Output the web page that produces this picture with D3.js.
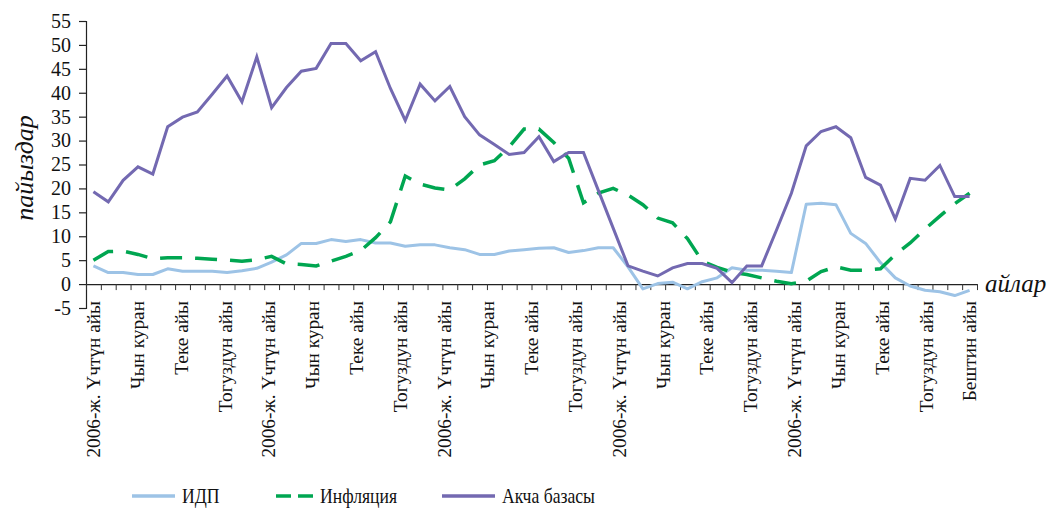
<!DOCTYPE html>
<html><head><meta charset="utf-8">
<script src="https://cdn.jsdelivr.net/npm/d3@7"></script>
<style>
html,body{margin:0;padding:0;background:#fff;}
svg{display:block;font-family:"Liberation Serif","Times New Roman",serif;}
</style></head>
<body>
<svg id="chart" width="1052" height="508"></svg>
<script>
const seriesNames = ["ИДП", "Инфляция", "Акча базасы"];
const gdp = [3.8,2.4,2.4,2.0,2.0,3.2,2.7,2.7,2.7,2.4,2.8,3.3,4.6,6.1,8.5,8.5,9.3,8.9,9.3,8.6,
             8.6,7.9,8.2,8.2,7.6,7.2,6.2,6.2,6.9,7.2,7.5,7.6,6.6,7.0,7.6,7.6,3.6,-1.0,0.1,0.4,
             -1.0,0.5,1.3,3.4,2.9,2.9,2.7,2.4,16.7,16.9,16.6,10.6,8.5,4.5,1.3,-0.4,-1.3,-1.6,-2.4,-1.3];
const inflation = [5.0,6.8,6.9,6.2,5.3,5.5,5.5,5.4,5.2,5.0,4.8,5.1,5.8,4.2,4.1,3.8,4.8,5.8,7.0,9.7,
                   13.0,22.6,20.9,20.1,19.7,22.0,24.9,25.8,28.7,32.4,32.4,29.6,26.3,17.0,19.0,20.0,18.6,16.6,13.8,12.8,
                   9.5,4.8,3.5,2.5,2.0,1.3,0.6,0.1,0.6,2.6,3.6,2.9,2.9,3.2,6.2,8.6,11.5,14.2,16.8,19.0];
const moneyBase = [19.3,17.2,21.7,24.5,23.0,32.9,34.9,36.0,39.7,43.5,38.1,47.5,36.9,41.1,44.5,45.1,50.3,50.3,46.7,48.6,
                   40.9,34.2,41.8,38.3,41.3,35.0,31.2,29.2,27.1,27.5,30.8,25.6,27.5,27.5,19.6,11.7,3.8,2.7,1.7,3.4,
                   4.3,4.3,3.3,0.3,3.8,3.8,11.3,19.0,28.9,31.9,32.9,30.6,22.3,20.7,13.6,22.1,21.7,24.8,18.3,18.3];
const xLabels = ["2006-ж. Үчтүн айы","Чын куран","Теке айы","Тогуздун айы",
                 "2006-ж. Үчтүн айы","Чын куран","Теке айы","Тогуздун айы",
                 "2006-ж. Үчтүн айы","Чын куран","Теке айы","Тогуздун айы",
                 "2006-ж. Үчтүн айы","Чын куран","Теке айы","Тогуздун айы",
                 "2006-ж. Үчтүн айы","Чын куран","Теке айы","Тогуздун айы",
                 "Бештин айы"];
const yTicks = [-5,0,5,10,15,20,25,30,35,40,45,50,55];
const yTitle = "пайыздар";
const xTitle = "айлар";

const colors = ["#9dc3e6", "#00a651", "#7369b1"];
const svg = d3.select("#chart");
const n = moneyBase.length;
const x = d3.scaleLinear().domain([-0.5, n - 0.5]).range([86, 977]);
const y = d3.scaleLinear().domain([-5, 55]).range([308, 21]);

// y axis
const yAxis = d3.axisLeft(y).tickValues(yTicks).tickSize(7).tickPadding(8).tickFormat(d => String(d));
const gy = svg.append("g").attr("transform", "translate(86,0)").call(yAxis);
gy.select(".domain").attr("stroke", "#222").attr("stroke-width", 1.2);
gy.selectAll(".tick line").attr("stroke", "#222").attr("stroke-width", 1.2);
gy.selectAll(".tick text").attr("font-size", 20).attr("fill", "#111")
  .attr("font-family", "Liberation Serif, Times New Roman, serif");

// x axis at 0
const bounds = d3.range(n + 1).map(i => i - 0.5);
const xAxis = d3.axisBottom(x).tickValues(bounds).tickSize(6).tickSizeOuter(0).tickFormat("");
const gx = svg.append("g").attr("transform", `translate(0,${y(0)})`).call(xAxis);
gx.select(".domain").attr("stroke", "#222").attr("stroke-width", 1.2);
gx.selectAll(".tick line").attr("stroke", "#333").attr("stroke-width", 1);

// x labels
const labelPos = xLabels.map((d, k) => k * (n - 1) / (xLabels.length - 1));
svg.append("g").selectAll("text").data(xLabels).join("text")
  .attr("transform", (d, k) => `translate(${x(labelPos[k])},301) rotate(-90)`)
  .attr("text-anchor", "end").attr("dy", "0.35em")
  .attr("font-size", 19.3).attr("fill", "#111").text(d => d);

// lines
const line = d3.line().x((d, i) => x(i)).y(d => y(d));
svg.append("path").datum(gdp).attr("d", line).attr("fill", "none")
  .attr("stroke", colors[0]).attr("stroke-width", 3).attr("stroke-linejoin", "round");
svg.append("path").datum(inflation).attr("d", line).attr("fill", "none")
  .attr("stroke", colors[1]).attr("stroke-width", 3.5).attr("stroke-dasharray", "22,13");
svg.append("path").datum(moneyBase).attr("d", line).attr("fill", "none")
  .attr("stroke", colors[2]).attr("stroke-width", 3).attr("stroke-linejoin", "miter");

// titles
svg.append("text").attr("transform", "translate(33,168) rotate(-90)")
  .attr("text-anchor", "middle").attr("font-style", "italic").attr("font-size", 26)
  .attr("fill", "#111").text(yTitle);
svg.append("text").attr("x", 985).attr("y", 292)
  .attr("font-style", "italic").attr("font-size", 25).attr("fill", "#111").text(xTitle);

// legend
const legX = [132, 276, 442];
const legW = [43, 37, 53];
const lg = svg.append("g");
seriesNames.forEach((name, k) => {
  const l = lg.append("line").attr("x1", legX[k]).attr("x2", legX[k] + legW[k])
    .attr("y1", 496).attr("y2", 496).attr("stroke", colors[k]).attr("stroke-width", 3.5);
  if (k === 1) l.attr("stroke-dasharray", "15,7");
  lg.append("text")
    .attr("transform", `translate(${legX[k] + legW[k] + 7},503) scale(0.82,1)`)
    .attr("font-size", 21.5).attr("fill", "#111").text(name);
});
</script>
</body></html>
